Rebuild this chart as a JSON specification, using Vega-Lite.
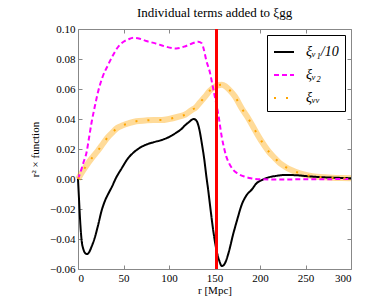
{
  "$schema": "https://vega.github.io/schema/vega-lite/v6.json",
  "autosize": "none",
  "width": 273,
  "height": 240,
  "padding": {"left": 78, "top": 29, "right": 39, "bottom": 31},
  "background": "white",
  "config": {
    "font": "Liberation Serif",
    "view": {"stroke": "#888888", "strokeWidth": 1},
    "axis": {"grid": false, "domain": false, "labelFont": "Liberation Serif", "labelFontSize": 11, "labelColor": "black", "titleFont": "Liberation Serif", "titleFontSize": 11, "titleFontWeight": "normal", "titleColor": "black", "tickColor": "#888888", "tickSize": -4, "labelPadding": 7}
  },
  "title": {"text": "Individual terms added to ξgg", "fontSize": 13, "font": "Liberation Serif", "fontWeight": "normal", "offset": 3, "color": "black"},
  "datasets": {
    "curves": [
      {"r": 0, "v": 0, "s": "ξᵥ₁/10"},
      {"r": 1, "v": -0.012, "s": "ξᵥ₁/10"},
      {"r": 2, "v": -0.024, "s": "ξᵥ₁/10"},
      {"r": 3, "v": -0.034, "s": "ξᵥ₁/10"},
      {"r": 4, "v": -0.041, "s": "ξᵥ₁/10"},
      {"r": 6, "v": -0.047, "s": "ξᵥ₁/10"},
      {"r": 8, "v": -0.0495, "s": "ξᵥ₁/10"},
      {"r": 10, "v": -0.05, "s": "ξᵥ₁/10"},
      {"r": 12, "v": -0.049, "s": "ξᵥ₁/10"},
      {"r": 15, "v": -0.045, "s": "ξᵥ₁/10"},
      {"r": 18, "v": -0.04, "s": "ξᵥ₁/10"},
      {"r": 22, "v": -0.031, "s": "ξᵥ₁/10"},
      {"r": 26, "v": -0.021, "s": "ξᵥ₁/10"},
      {"r": 30, "v": -0.014, "s": "ξᵥ₁/10"},
      {"r": 34, "v": -0.009, "s": "ξᵥ₁/10"},
      {"r": 37, "v": -0.0055, "s": "ξᵥ₁/10"},
      {"r": 42, "v": 0.001, "s": "ξᵥ₁/10"},
      {"r": 48, "v": 0.0071, "s": "ξᵥ₁/10"},
      {"r": 54, "v": 0.013, "s": "ξᵥ₁/10"},
      {"r": 59, "v": 0.0165, "s": "ξᵥ₁/10"},
      {"r": 66, "v": 0.02, "s": "ξᵥ₁/10"},
      {"r": 74, "v": 0.0227, "s": "ξᵥ₁/10"},
      {"r": 83, "v": 0.0245, "s": "ξᵥ₁/10"},
      {"r": 92, "v": 0.026, "s": "ξᵥ₁/10"},
      {"r": 100, "v": 0.028, "s": "ξᵥ₁/10"},
      {"r": 107, "v": 0.0305, "s": "ξᵥ₁/10"},
      {"r": 113, "v": 0.033, "s": "ξᵥ₁/10"},
      {"r": 118, "v": 0.036, "s": "ξᵥ₁/10"},
      {"r": 122, "v": 0.038, "s": "ξᵥ₁/10"},
      {"r": 125, "v": 0.0395, "s": "ξᵥ₁/10"},
      {"r": 127, "v": 0.04, "s": "ξᵥ₁/10"},
      {"r": 130, "v": 0.039, "s": "ξᵥ₁/10"},
      {"r": 133, "v": 0.034, "s": "ξᵥ₁/10"},
      {"r": 136, "v": 0.024, "s": "ξᵥ₁/10"},
      {"r": 139, "v": 0.012, "s": "ξᵥ₁/10"},
      {"r": 141, "v": 0.002, "s": "ξᵥ₁/10"},
      {"r": 143, "v": -0.007, "s": "ξᵥ₁/10"},
      {"r": 146, "v": -0.022, "s": "ξᵥ₁/10"},
      {"r": 149, "v": -0.036, "s": "ξᵥ₁/10"},
      {"r": 152, "v": -0.047, "s": "ξᵥ₁/10"},
      {"r": 155, "v": -0.054, "s": "ξᵥ₁/10"},
      {"r": 158, "v": -0.058, "s": "ξᵥ₁/10"},
      {"r": 160, "v": -0.0575, "s": "ξᵥ₁/10"},
      {"r": 163, "v": -0.054, "s": "ξᵥ₁/10"},
      {"r": 166, "v": -0.048, "s": "ξᵥ₁/10"},
      {"r": 170, "v": -0.038, "s": "ξᵥ₁/10"},
      {"r": 175, "v": -0.027, "s": "ξᵥ₁/10"},
      {"r": 180, "v": -0.017, "s": "ξᵥ₁/10"},
      {"r": 185, "v": -0.011, "s": "ξᵥ₁/10"},
      {"r": 191, "v": -0.007, "s": "ξᵥ₁/10"},
      {"r": 196, "v": -0.003, "s": "ξᵥ₁/10"},
      {"r": 202, "v": -0.0007, "s": "ξᵥ₁/10"},
      {"r": 210, "v": 0.0012, "s": "ξᵥ₁/10"},
      {"r": 217, "v": 0.002, "s": "ξᵥ₁/10"},
      {"r": 228, "v": 0.0027, "s": "ξᵥ₁/10"},
      {"r": 240, "v": 0.0025, "s": "ξᵥ₁/10"},
      {"r": 250, "v": 0.002, "s": "ξᵥ₁/10"},
      {"r": 260, "v": 0.0015, "s": "ξᵥ₁/10"},
      {"r": 275, "v": 0.001, "s": "ξᵥ₁/10"},
      {"r": 290, "v": 0.0007, "s": "ξᵥ₁/10"},
      {"r": 300, "v": 0.0005, "s": "ξᵥ₁/10"},
      {"r": 0, "v": 0, "s": "ξᵥ₂"},
      {"r": 3, "v": 0.005, "s": "ξᵥ₂"},
      {"r": 6, "v": 0.011, "s": "ξᵥ₂"},
      {"r": 9.5, "v": 0.018, "s": "ξᵥ₂"},
      {"r": 12, "v": 0.027, "s": "ξᵥ₂"},
      {"r": 15, "v": 0.038, "s": "ξᵥ₂"},
      {"r": 18, "v": 0.047, "s": "ξᵥ₂"},
      {"r": 22, "v": 0.058, "s": "ξᵥ₂"},
      {"r": 27, "v": 0.068, "s": "ξᵥ₂"},
      {"r": 33, "v": 0.076, "s": "ξᵥ₂"},
      {"r": 38, "v": 0.082, "s": "ξᵥ₂"},
      {"r": 44, "v": 0.088, "s": "ξᵥ₂"},
      {"r": 50, "v": 0.0915, "s": "ξᵥ₂"},
      {"r": 55, "v": 0.093, "s": "ξᵥ₂"},
      {"r": 61, "v": 0.0942, "s": "ξᵥ₂"},
      {"r": 68, "v": 0.0935, "s": "ξᵥ₂"},
      {"r": 75, "v": 0.092, "s": "ξᵥ₂"},
      {"r": 85, "v": 0.0904, "s": "ξᵥ₂"},
      {"r": 95, "v": 0.0885, "s": "ξᵥ₂"},
      {"r": 108, "v": 0.087, "s": "ξᵥ₂"},
      {"r": 118, "v": 0.0885, "s": "ξᵥ₂"},
      {"r": 126, "v": 0.0905, "s": "ξᵥ₂"},
      {"r": 132, "v": 0.0915, "s": "ξᵥ₂"},
      {"r": 136, "v": 0.0905, "s": "ξᵥ₂"},
      {"r": 138, "v": 0.087, "s": "ξᵥ₂"},
      {"r": 141, "v": 0.079, "s": "ξᵥ₂"},
      {"r": 145, "v": 0.071, "s": "ξᵥ₂"},
      {"r": 148, "v": 0.062, "s": "ξᵥ₂"},
      {"r": 151, "v": 0.053, "s": "ξᵥ₂"},
      {"r": 154, "v": 0.0438, "s": "ξᵥ₂"},
      {"r": 158, "v": 0.028, "s": "ξᵥ₂"},
      {"r": 160, "v": 0.022, "s": "ξᵥ₂"},
      {"r": 163, "v": 0.0149, "s": "ξᵥ₂"},
      {"r": 166, "v": 0.0105, "s": "ξᵥ₂"},
      {"r": 170.7, "v": 0.006, "s": "ξᵥ₂"},
      {"r": 175, "v": 0.0038, "s": "ξᵥ₂"},
      {"r": 183.5, "v": 0.0015, "s": "ξᵥ₂"},
      {"r": 190, "v": 0.0005, "s": "ξᵥ₂"},
      {"r": 202, "v": -0.0002, "s": "ξᵥ₂"},
      {"r": 215, "v": -0.0003, "s": "ξᵥ₂"},
      {"r": 250, "v": -0.0002, "s": "ξᵥ₂"},
      {"r": 300, "v": 0, "s": "ξᵥ₂"},
      {"r": 0, "v": 0, "s": "ξᵥᵥ"},
      {"r": 5, "v": 0.005, "s": "ξᵥᵥ"},
      {"r": 11, "v": 0.0105, "s": "ξᵥᵥ"},
      {"r": 16, "v": 0.0145, "s": "ξᵥᵥ"},
      {"r": 22, "v": 0.019, "s": "ξᵥᵥ"},
      {"r": 28, "v": 0.024, "s": "ξᵥᵥ"},
      {"r": 33, "v": 0.028, "s": "ξᵥᵥ"},
      {"r": 37, "v": 0.0305, "s": "ξᵥᵥ"},
      {"r": 43, "v": 0.034, "s": "ξᵥᵥ"},
      {"r": 48, "v": 0.0355, "s": "ξᵥᵥ"},
      {"r": 55, "v": 0.037, "s": "ξᵥᵥ"},
      {"r": 64, "v": 0.0385, "s": "ξᵥᵥ"},
      {"r": 74, "v": 0.039, "s": "ξᵥᵥ"},
      {"r": 83, "v": 0.0393, "s": "ξᵥᵥ"},
      {"r": 92, "v": 0.0393, "s": "ξᵥᵥ"},
      {"r": 100, "v": 0.04, "s": "ξᵥᵥ"},
      {"r": 110, "v": 0.0415, "s": "ξᵥᵥ"},
      {"r": 118, "v": 0.043, "s": "ξᵥᵥ"},
      {"r": 125, "v": 0.046, "s": "ξᵥᵥ"},
      {"r": 129, "v": 0.0475, "s": "ξᵥᵥ"},
      {"r": 134, "v": 0.051, "s": "ξᵥᵥ"},
      {"r": 139.6, "v": 0.0549, "s": "ξᵥᵥ"},
      {"r": 145, "v": 0.059, "s": "ξᵥᵥ"},
      {"r": 150.5, "v": 0.0615, "s": "ξᵥᵥ"},
      {"r": 154, "v": 0.0625, "s": "ξᵥᵥ"},
      {"r": 158, "v": 0.0628, "s": "ξᵥᵥ"},
      {"r": 162, "v": 0.0618, "s": "ξᵥᵥ"},
      {"r": 167, "v": 0.059, "s": "ξᵥᵥ"},
      {"r": 172.5, "v": 0.055, "s": "ξᵥᵥ"},
      {"r": 180, "v": 0.047, "s": "ξᵥᵥ"},
      {"r": 187, "v": 0.0405, "s": "ξᵥᵥ"},
      {"r": 195, "v": 0.032, "s": "ξᵥᵥ"},
      {"r": 202, "v": 0.0249, "s": "ξᵥᵥ"},
      {"r": 210, "v": 0.018, "s": "ξᵥᵥ"},
      {"r": 216.5, "v": 0.0138, "s": "ξᵥᵥ"},
      {"r": 222, "v": 0.0105, "s": "ξᵥᵥ"},
      {"r": 227.5, "v": 0.0082, "s": "ξᵥᵥ"},
      {"r": 235, "v": 0.0058, "s": "ξᵥᵥ"},
      {"r": 244, "v": 0.0038, "s": "ξᵥᵥ"},
      {"r": 253, "v": 0.0024, "s": "ξᵥᵥ"},
      {"r": 262, "v": 0.0015, "s": "ξᵥᵥ"},
      {"r": 275, "v": 0.001, "s": "ξᵥᵥ"},
      {"r": 290, "v": 0.0006, "s": "ξᵥᵥ"},
      {"r": 300, "v": 0.0005, "s": "ξᵥᵥ"}
    ]
  },
  "data": {"name": "curves"},
  "resolve": {"axis": {"x": "independent", "y": "independent"}},
  "layer": [
    {
      "transform": [{"filter": "datum.s === 'ξᵥᵥ'"}],
      "mark": {"type": "line", "color": "#FFA500", "strokeWidth": 6, "opacity": 0.4, "interpolate": "monotone"},
      "encoding": {
        "x": {"field": "r", "type": "quantitative", "scale": {"domain": [0, 300], "nice": false, "zero": false}, "axis": {"orient": "top", "labels": false, "title": null, "values": [0, 50, 100, 150, 200, 250, 300]}},
        "y": {"field": "v", "type": "quantitative", "scale": {"domain": [-0.06, 0.1], "nice": false, "zero": false}, "axis": {"orient": "right", "labels": false, "title": null, "values": [-0.06, -0.04, -0.02, 0, 0.02, 0.04, 0.06, 0.08, 0.1]}},
        "order": {"field": "r"}
      }
    },
    {
      "mark": {"type": "line", "strokeWidth": 2, "interpolate": "monotone"},
      "encoding": {
        "x": {"field": "r", "type": "quantitative", "axis": {"orient": "bottom", "title": "r [Mpc]", "values": [0, 50, 100, 150, 200, 250, 300], "titlePadding": 1}},
        "y": {"field": "v", "type": "quantitative", "axis": {"orient": "left", "title": "r² × function", "format": ".2f", "values": [-0.06, -0.04, -0.02, 0, 0.02, 0.04, 0.06, 0.08, 0.1], "titleX": -38}},
        "order": {"field": "r"},
        "color": {"field": "s", "type": "nominal", "scale": {"domain": ["ξᵥ₁/10", "ξᵥ₂", "ξᵥᵥ"], "range": ["#000000", "#FF00FF", "#FFA500"]},
          "legend": {"title": null, "orient": "top-right", "offset": 6, "padding": 6, "strokeColor": "#000000", "fillColor": "white", "cornerRadius": 0, "symbolType": "stroke", "symbolSize": 400, "symbolStrokeWidth": 2, "labelFont": "Liberation Serif", "labelFontSize": 14, "labelFontStyle": "italic", "labelOffset": 11, "rowPadding": 5, "labelColor": "black"}},
        "strokeDash": {"field": "s", "type": "nominal", "scale": {"domain": ["ξᵥ₁/10", "ξᵥ₂", "ξᵥᵥ"], "range": [[1, 0], [5, 3], [2, 10]]}, "legend": null}
      }
    },
    {
      "mark": {"type": "rule", "color": "#FF0000", "strokeWidth": 2.5},
      "encoding": {"x": {"datum": 152, "type": "quantitative", "axis": null}}
    }
  ]
}
